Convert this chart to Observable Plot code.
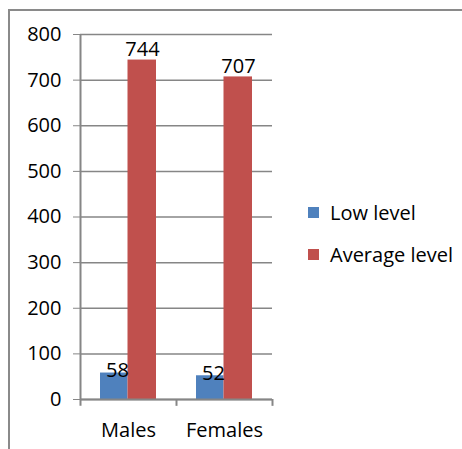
<!DOCTYPE html>
<html><head><meta charset="utf-8">
<script src="https://cdn.jsdelivr.net/npm/d3@7"></script>
<script src="https://cdn.jsdelivr.net/npm/@observablehq/plot@0.6"></script>
<style>
body{margin:0;background:#fff;}
#wrap{position:relative;width:462px;height:449px;overflow:hidden;font-family:"Open Sans",sans-serif;}
#chart{position:absolute;left:0;top:0;}
#border{position:absolute;left:8px;top:9px;width:480px;height:480px;border-top:2px solid #8a8a8a;border-left:2px solid #8a8a8a;}
#legend{position:absolute;left:308px;top:199px;font-size:20px;color:#000;}
.item{display:flex;align-items:center;height:26px;margin-bottom:16px;}
.sw{width:11px;height:11px;margin-right:11px;}
</style></head>
<body>
<div id="wrap"><div id="border"></div><div id="chart"></div><div id="legend"></div></div>
<script>
const categories = ["Males", "Females"];
const series = ["Low level", "Average level"];
const lowValues = [58, 52];
const averageValues = [744, 707];
const yTicks = [0, 100, 200, 300, 400, 500, 600, 700, 800];
const colors = ["#4F81BD", "#C0504D"];

const lowRows = categories.map((c, i) => ({category: c, series: series[0], value: lowValues[i]}));
const avgRows = categories.map((c, i) => ({category: c, series: series[1], value: averageValues[i]}));

const gray = "#868686";
const font = "'Open Sans', sans-serif";
const fs = 20;

const chart = Plot.plot({
  width: 462,
  height: 449,
  marginLeft: 80,
  marginRight: 190,
  marginTop: 34,
  marginBottom: 50,
  style: {fontFamily: font, fontSize: fs + "px", background: "transparent", overflow: "visible"},
  x: {domain: categories, padding: 0, axis: null},
  y: {domain: [0, 800], axis: null},
  color: {domain: series, range: colors},
  marks: [
    Plot.gridY(yTicks, {stroke: gray, strokeOpacity: 1, strokeWidth: 1.5}),
    Plot.axisY(yTicks, {tickSize: 7, tickPadding: 12, stroke: gray, fill: "black", fontSize: fs, label: null}),
    Plot.barY(lowRows, {x: "category", y: "value", fill: "series", insetLeft: 20, insetRight: 48.5}),
    Plot.barY(avgRows, {x: "category", y: "value", fill: "series", insetLeft: 47.5, insetRight: 20}),
    Plot.ruleY([0], {stroke: gray, strokeWidth: 2}),
    Plot.ruleX([categories[0]], {dx: -48, y1: -15, y2: 800, stroke: gray, strokeWidth: 2}),
    Plot.ruleX(categories, {dx: 48, y1: -15, y2: 0, stroke: gray, strokeWidth: 2}),
    Plot.text(lowRows, {x: "category", y: "value", text: d => String(d.value), dx: -11, dy: 4, lineAnchor: "bottom", fontSize: fs, fill: "black"}),
    Plot.text(avgRows, {x: "category", y: "value", text: d => String(d.value), dx: 14, dy: -4, lineAnchor: "bottom", fontSize: fs, fill: "black"}),
    Plot.axisX(categories, {tickSize: 0, tickPadding: 23, fontSize: fs, fill: "black", label: null})
  ]
});
document.getElementById("chart").appendChild(chart);

const legend = document.getElementById("legend");
series.forEach((s, i) => {
  const item = document.createElement("div");
  item.className = "item";
  const sw = document.createElement("div");
  sw.className = "sw";
  sw.style.background = colors[i];
  const label = document.createElement("span");
  label.textContent = s;
  item.appendChild(sw);
  item.appendChild(label);
  legend.appendChild(item);
});
</script>
</body></html>
